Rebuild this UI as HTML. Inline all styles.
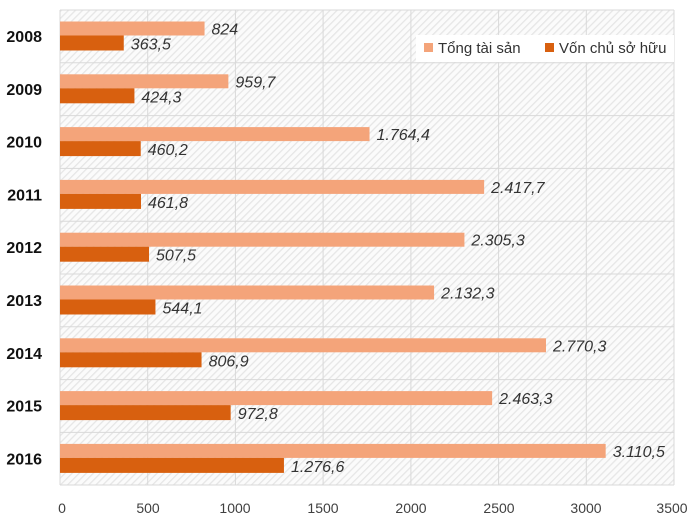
<!DOCTYPE html>
<html><head><meta charset="utf-8"><style>
body{margin:0;background:#fff}
svg{display:block;font-family:"Liberation Sans","DejaVu Sans",sans-serif}
</style></head><body>
<svg width="700" height="528" viewBox="0 0 700 528">
<defs>
<pattern id="h" width="5" height="5" patternUnits="userSpaceOnUse" patternTransform="rotate(45)">
<rect width="5" height="5" fill="#fbfbfb"/><rect width="1.3" height="5" fill="#e6e6e6"/>
</pattern>
</defs>
<rect x="60" y="10" width="614" height="475" fill="url(#h)"/>
<g stroke="#d9d9d9" stroke-width="1">
<line x1="60" y1="10" x2="60" y2="485"/><line x1="147.7" y1="10" x2="147.7" y2="485"/>
<line x1="235.4" y1="10" x2="235.4" y2="485"/><line x1="323.1" y1="10" x2="323.1" y2="485"/>
<line x1="410.9" y1="10" x2="410.9" y2="485"/><line x1="498.6" y1="10" x2="498.6" y2="485"/>
<line x1="586.3" y1="10" x2="586.3" y2="485"/><line x1="674" y1="10" x2="674" y2="485"/>
<line x1="60" y1="10" x2="674" y2="10"/><line x1="60" y1="62.8" x2="674" y2="62.8"/>
<line x1="60" y1="115.6" x2="674" y2="115.6"/><line x1="60" y1="168.4" x2="674" y2="168.4"/>
<line x1="60" y1="221.2" x2="674" y2="221.2"/><line x1="60" y1="274" x2="674" y2="274"/>
<line x1="60" y1="326.8" x2="674" y2="326.8"/><line x1="60" y1="379.6" x2="674" y2="379.6"/>
<line x1="60" y1="432.4" x2="674" y2="432.4"/><line x1="60" y1="485" x2="674" y2="485"/>
</g>
<g fill="#f4a47a">
<rect x="60" y="21.5" width="144.55" height="14"/>
<rect x="60" y="74.3" width="168.36" height="14"/>
<rect x="60" y="127.1" width="309.53" height="14"/>
<rect x="60" y="179.9" width="424.13" height="14"/>
<rect x="60" y="232.7" width="404.42" height="14"/>
<rect x="60" y="285.5" width="374.07" height="14"/>
<rect x="60" y="338.3" width="485.99" height="14"/>
<rect x="60" y="391.1" width="432.13" height="14"/>
<rect x="60" y="443.9" width="545.67" height="14"/>
</g>
<g fill="#d8600f">
<rect x="60" y="35.5" width="63.77" height="15"/>
<rect x="60" y="88.3" width="74.43" height="15"/>
<rect x="60" y="141.1" width="80.73" height="15"/>
<rect x="60" y="193.9" width="81.01" height="15"/>
<rect x="60" y="246.7" width="89.03" height="15"/>
<rect x="60" y="299.5" width="95.45" height="15"/>
<rect x="60" y="352.3" width="141.55" height="15"/>
<rect x="60" y="405.1" width="170.66" height="15"/>
<rect x="60" y="457.9" width="223.95" height="15"/>
</g>
<g font-size="16" font-style="italic" fill="#333">
<text x="211.5" y="34.5">824</text><text x="130.8" y="49.5">363,5</text>
<text x="235.4" y="87.3">959,7</text><text x="141.4" y="102.3">424,3</text>
<text x="376.5" y="140.1">1.764,4</text><text x="147.7" y="155.1">460,2</text>
<text x="491.1" y="192.9">2.417,7</text><text x="148" y="207.9">461,8</text>
<text x="471.4" y="245.7">2.305,3</text><text x="156" y="260.7">507,5</text>
<text x="441.1" y="298.5">2.132,3</text><text x="162.5" y="313.5">544,1</text>
<text x="553" y="351.3">2.770,3</text><text x="208.6" y="366.3">806,9</text>
<text x="499.1" y="404.1">2.463,3</text><text x="237.7" y="419.1">972,8</text>
<text x="612.7" y="456.9">3.110,5</text><text x="291" y="471.9">1.276,6</text>
</g>
<g font-size="16" font-weight="bold" text-anchor="end" fill="#111">
<text x="42" y="42">2008</text><text x="42" y="94.8">2009</text><text x="42" y="147.6">2010</text>
<text x="42" y="200.4">2011</text><text x="42" y="253.2">2012</text><text x="42" y="306">2013</text>
<text x="42" y="358.8">2014</text><text x="42" y="411.6">2015</text><text x="42" y="464.4">2016</text>
</g>
<g font-size="14" fill="#404040" text-anchor="middle">
<text x="62" y="513">0</text><text x="148" y="513">500</text><text x="235" y="513">1000</text>
<text x="323" y="513">1500</text><text x="411" y="513">2000</text><text x="499" y="513">2500</text>
<text x="586" y="513">3000</text><text x="672" y="513">3500</text>
</g>
<rect x="416" y="35" width="258" height="27" fill="#fff"/>
<rect x="424" y="43" width="9" height="9" fill="#f4a47a"/>
<text x="438" y="53" font-size="15" fill="#333">Tổng tài sản</text>
<rect x="545" y="43" width="9" height="9" fill="#d8600f"/>
<text x="559" y="53" font-size="15" fill="#333">Vốn chủ sở hữu</text>
</svg>
</body></html>
